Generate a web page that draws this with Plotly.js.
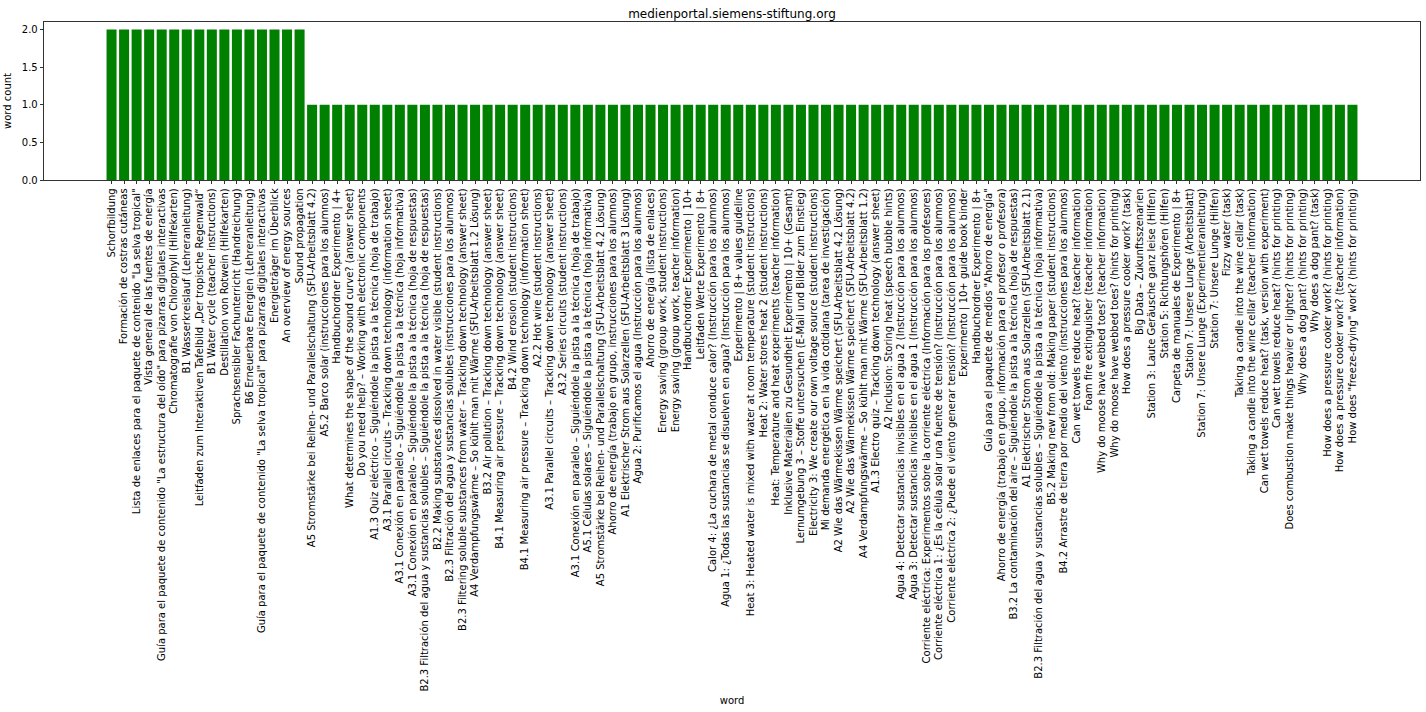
<!DOCTYPE html>
<html>
<head>
<meta charset="utf-8">
<script src="https://cdn.plot.ly/plotly-3.0.1.min.js"></script>
<style>html,body{margin:0;padding:0;background:#fff;}#chart{width:1426px;height:712px;}</style>
</head>
<body>
<div id="chart"></div>
<script>
const words = [
"Schorfbildung",
"Formación de costras cutáneas",
"Lista de enlaces para el paquete de contenido \"La selva tropical\"",
"Vista general de las fuentes de energía",
"Guía para el paquete de contenido \"La estructura del oído\" para pizarras digitales interactivas",
"Chromatografie von Chlorophyll (Hilfekarten)",
"B1 Wasserkreislauf (Lehreranleitung)",
"Leitfaden zum Interaktiven Tafelbild „Der tropische Regenwald“",
"B1 Water cycle (teacher instructions)",
"Destillation von Rotwein (Hilfekarten)",
"Sprachsensibler Fachunterricht (Handreichung)",
"B6 Erneuerbare Energien (Lehreranleitung)",
"Guía para el paquete de contenido \"La selva tropical\" para pizarras digitales interactivas",
"Energieträger im Überblick",
"An overview of energy sources",
"Sound propagation",
"A5 Stromstärke bei Reihen- und Parallelschaltung (SFU-Arbeitsblatt 4.2)",
"A5.2 Barco solar (instrucciones para los alumnos)",
"Handbuchordner Experimento | 4+",
"What determines the shape of the sound curve? (answer sheet)",
"Do you need help? – Working with electronic components",
"A1.3 Quiz eléctrico – Siguiéndole la pista a la técnica (hoja de trabajo)",
"A3.1 Parallel circuits – Tracking down technology (information sheet)",
"A3.1 Conexión en paralelo – Siguiéndole la pista a la técnica (hoja informativa)",
"A3.1 Conexión en paralelo – Siguiéndole la pista a la técnica (hoja de respuestas)",
"B2.3 Filtración del agua y sustancias solubles – Siguiéndole la pista a la técnica (hoja de respuestas)",
"B2.2 Making substances dissolved in water visible (student instructions)",
"B2.3 Filtración del agua y sustancias solubles (instrucciones para los alumnos)",
"B2.3 Filtering soluble substances from water – Tracking down technology (answer sheet)",
"A4 Verdampfungswärme – So kühlt man mit Wärme (SFU-Arbeitsblatt 1.2 Lösung)",
"B3.2 Air pollution – Tracking down technology (answer sheet)",
"B4.1 Measuring air pressure – Tracking down technology (answer sheet)",
"B4.2 Wind erosion (student instructions)",
"B4.1 Measuring air pressure – Tracking down technology (information sheet)",
"A2.2 Hot wire (student instructions)",
"A3.1 Parallel circuits – Tracking down technology (answer sheet)",
"A3.2 Series circuits (student instructions)",
"A3.1 Conexión en paralelo – Siguiéndole la pista a la técnica (hoja de trabajo)",
"A5.1 Células solares – Siguiéndole la pista a la técnica (hoja informativa)",
"A5 Stromstärke bei Reihen- und Parallelschaltung (SFU-Arbeitsblatt 4.2 Lösung)",
"Ahorro de energía (trabajo en grupo, instrucciones para los alumnos)",
"A1 Elektrischer Strom aus Solarzellen (SFU-Arbeitsblatt 3 Lösung)",
"Agua 2: Purificamos el agua (Instrucción para los alumnos)",
"Ahorro de energía (lista de enlaces)",
"Energy saving (group work, student instructions)",
"Energy saving (group work, teacher information)",
"Handbuchordner Experimento | 10+",
"Leitfaden Werte Experimento | 8+",
"Calor 4: ¿La cuchara de metal conduce calor? (Instrucción para los alumnos)",
"Agua 1: ¿Todas las sustancias se disuelven en agua? (Instrucción para los alumnos)",
"Experimento | 8+ values guideline",
"Heat 3: Heated water is mixed with water at room temperature (student instructions)",
"Heat 2: Water stores heat 2 (student instructions)",
"Heat: Temperature and heat experiments (teacher information)",
"Inklusive Materialien zu Gesundheit Experimento | 10+ (Gesamt)",
"Lernumgebung 3 – Stoffe untersuchen (E-Mail und Bilder zum Einstieg)",
"Electricity 3: We create our own voltage source (student instructions)",
"Mi demanda energética en la vida cotidiana (tarea de investigación)",
"A2 Wie das Wärmekissen Wärme speichert (SFU-Arbeitsblatt 4.2 Lösung)",
"A2 Wie das Wärmekissen Wärme speichert (SFU-Arbeitsblatt 4.2)",
"A4 Verdampfungswärme – So kühlt man mit Wärme (SFU-Arbeitsblatt 1.2)",
"A1.3 Electro quiz – Tracking down technology (answer sheet)",
"A2 Inclusion: Storing heat (speech bubble hints)",
"Agua 4: Detectar sustancias invisibles en el agua 2 (Instrucción para los alumnos)",
"Agua 3: Detectar sustancias invisibles en el agua 1 (Instrucción para los alumnos)",
"Corriente eléctrica: Experimentos sobre la corriente eléctrica (Información para los profesores)",
"Corriente eléctrica 1: ¿Es la célula solar una fuente de tensión? (Instrucción para los alumnos)",
"Corriente eléctrica 2: ¿Puede el viento generar tensión? (Instrucción para los alumnos)",
"Experimento | 10+ guide book binder",
"Handbuchordner Experimento | 8+",
"Guía para el paquete de medios \"Ahorro de energía\"",
"Ahorro de energía (trabajo en grupo, información para el profesor o profesora)",
"B3.2 La contaminación del aire – Siguiéndole la pista a la técnica (hoja de respuestas)",
"A1 Elektrischer Strom aus Solarzellen (SFU-Arbeitsblatt 2.1)",
"B2.3 Filtración del agua y sustancias solubles – Siguiéndole la pista a la técnica (hoja informativa)",
"B5.2 Making new from old: Making paper (student instructions)",
"B4.2 Arrastre de tierra por medio del viento (instrucciones para los alumnos)",
"Can wet towels reduce heat? (teacher information)",
"Foam fire extinguisher (teacher information)",
"Why do moose have webbed toes? (teacher information)",
"Why do moose have webbed toes? (hints for printing)",
"How does a pressure cooker work? (task)",
"Big Data – Zukunftsszenarien",
"Station 3: Laute Geräusche ganz leise (Hilfen)",
"Station 5: Richtungshören (Hilfen)",
"Carpeta de manuales de Experimento | 8+",
"Station 7: Unsere Lunge (Arbeitsblatt)",
"Station 7: Unsere Lunge (Experimentieranleitung)",
"Station 7: Unsere Lunge (Hilfen)",
"Fizzy water (task)",
"Taking a candle into the wine cellar (task)",
"Taking a candle into the wine cellar (teacher information)",
"Can wet towels reduce heat? (task, version with experiment)",
"Can wet towels reduce heat? (hints for printing)",
"Does combustion make things heavier or lighter? (hints for printing)",
"Why does a dog pant? (hints for printing)",
"Why does a dog pant? (task)",
"How does a pressure cooker work? (hints for printing)",
"How does a pressure cooker work? (teacher information)",
"How does \"freeze-drying\" work? (hints for printing)"
];
const wordCounts = [
2,2,2,2,2,2,2,2,2,2,2,2,2,2,2,2,
1,1,1,1,1,1,1,1,1,1,1,1,1,1,1,1,1,1,1,1,1,1,1,1,
1,1,1,1,1,1,1,1,1,1,1,1,1,1,1,1,1,1,1,1,1,1,1,1,
1,1,1,1,1,1,1,1,1,1,1,1,1,1,1,1,1,1,1,1,1,1,1,1,
1,1,1,1,1,1,1,1,1,1,1,1
];
const yTicks = [0, 0.5, 1.0, 1.5, 2.0];
const chartTitle = "medienportal.siemens-stiftung.org";

const idx = words.map((w, i) => i);
const n = words.length;
const pad = 0.05 * ((n - 1 + 0.4) - (-0.4));

const font = {family: "DejaVu Sans, sans-serif", size: 10, color: "#000"};

Plotly.newPlot("chart", [{
  type: "bar",
  x: idx,
  y: wordCounts.slice(0, n),
  marker: {color: "#008000", line: {width: 0}},
  hoverinfo: "skip"
}], {
  width: 1426, height: 712,
  margin: {l: 44, r: 6, t: 22, b: 532, pad: 0},
  paper_bgcolor: "#fff", plot_bgcolor: "#fff",
  bargap: 0.2,
  showlegend: false,
  font: font,
  title: {text: chartTitle, font: {family: font.family, size: 12, color: "#000"}, x: 0.5, xref: "paper", y: 1, yref: "paper", yanchor: "bottom", pad: {b: 4}},
  xaxis: {
    range: [-0.4 - pad, n - 1 + 0.4 + pad],
    tickmode: "array", tickvals: idx, ticktext: words,
    tickangle: -90, ticks: "outside", ticklen: 3.5, tickcolor: "#000", tickwidth: 0.8,
    showgrid: false, zeroline: false, automargin: false,
    showline: true, mirror: true, linecolor: "#000", linewidth: 0.8,
    tickfont: font,
    title: {text: "word", font: font, standoff: 6}
  },
  yaxis: {
    range: [0, 2.1],
    tickmode: "array", tickvals: yTicks, ticktext: yTicks.map(v => v.toFixed(1)),
    ticks: "outside", ticklen: 3.5, tickcolor: "#000", tickwidth: 0.8,
    showgrid: false, zeroline: false, automargin: false,
    showline: true, mirror: true, linecolor: "#000", linewidth: 0.8,
    tickfont: font,
    title: {text: "word count", font: font, standoff: 8}
  }
}, {displayModeBar: false, staticPlot: true});
</script>
</body>
</html>
